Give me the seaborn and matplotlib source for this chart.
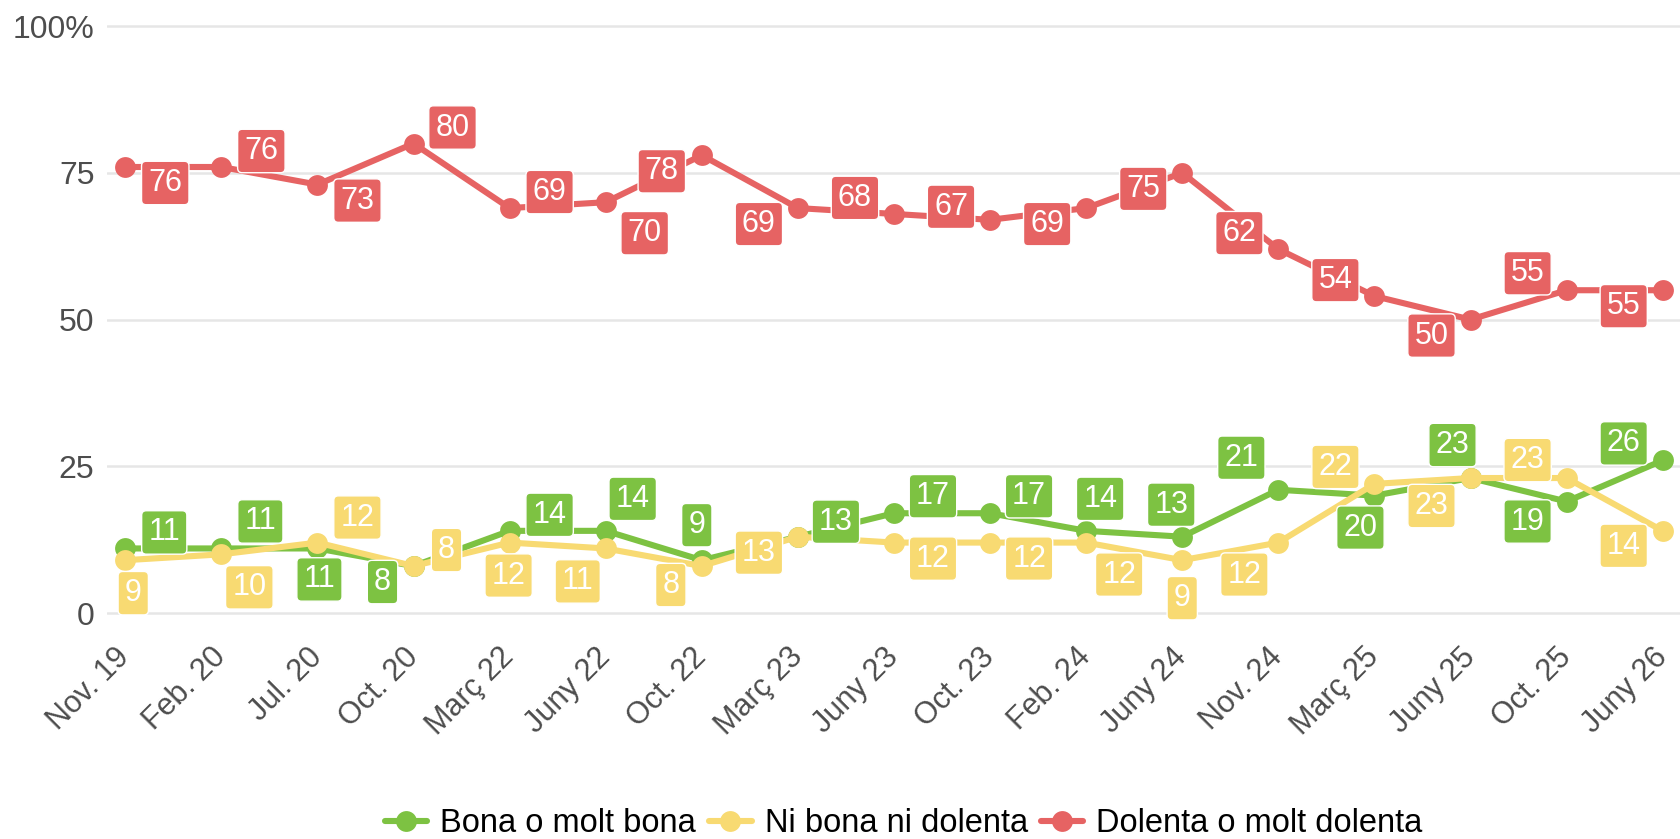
import numpy as np
import pandas as pd
import matplotlib.pyplot as plt
import seaborn as sns
from matplotlib.lines import Line2D

periods = ['Nov. 19', 'Feb. 20', 'Jul. 20', 'Oct. 20', 'Març 22', 'Juny 22', 'Oct. 22',
           'Març 23', 'Juny 23', 'Oct. 23', 'Feb. 24', 'Juny 24', 'Nov. 24', 'Març 25',
           'Juny 25', 'Oct. 25', 'Juny 26']
bona = [11, 11, 11, 8, 14, 14, 9, 13, 17, 17, 14, 13, 21, 20, 23, 19, 26]
ni_bona = [9, 10, 12, 8, 12, 11, 8, 13, 12, 12, 12, 9, 12, 22, 23, 23, 14]
dolenta = [76, 76, 73, 80, 69, 70, 78, 69, 68, 67, 69, 75, 62, 54, 50, 55, 55]

series_names = ['Bona o molt bona', 'Ni bona ni dolenta', 'Dolenta o molt dolenta']
colors = ['#7DC242', '#F8DA72', '#E66363']

# label box offsets in pixels (dx right, dy down) from each point
bona_off = [(39, -16), (39, -27), (2, 31), (-31, 16), (40, -16), (27, -32), (-5, -35),
            (38, -15), (39, -17), (39, -17), (14, -32), (-11, -32), (-37, -32), (-14, 32),
            (-18, -33), (-39, 20), (-39, -17)]
ni_off = [(8, 33), (28, 33), (40, -25), (33, -16), (-1, 33), (-28, 33), (-31, 19),
          (-39, 16), (39, 16), (39, 16), (33, 32), (0, 38), (-34, 32), (-39, -17),
          (-39, 28), (-39, -18), (-39, 15)]
dolenta_off = [(40, 16), (40, -16), (40, 16), (39, -16), (40, -16), (39, 31), (-40, 16),
               (-39, 16), (-39, -16), (-39, -13), (-39, 16), (-39, 16), (-39, -16),
               (-39, -16), (-39, 16), (-39, -17), (-39, 16)]

df = pd.DataFrame({
    'periode': periods * 3,
    'valor': bona + ni_bona + dolenta,
    'serie': np.repeat(series_names, len(periods)),
})

sns.set_style('white')
plt.rcParams['font.family'] = ['Liberation Sans', 'DejaVu Sans']

fig = plt.figure(figsize=(16.8, 8.39), dpi=100)
ax = fig.add_axes([107 / 1680, 1 - 640 / 839, 1 - 107 / 1680, 625 / 839])

sns.lineplot(data=df, x='periode', y='valor', hue='serie', hue_order=series_names,
             palette=colors, marker='o', markersize=15, markeredgewidth=0,
             linewidth=4.4, sort=False, legend=False, ax=ax)

for vals, offs, col in zip([bona, ni_bona, dolenta], [bona_off, ni_off, dolenta_off], colors):
    for i, (v, (dx, dy)) in enumerate(zip(vals, offs)):
        ax.annotate(str(v), xy=(i, v), xytext=(dx, -dy), textcoords='offset pixels',
                    ha='center', va='center', fontsize=22, color='white', zorder=6,
                    bbox=dict(boxstyle='round,pad=0.22,rounding_size=0.15',
                              fc=col, ec='white', lw=1))

ax.set_xlim(-0.19, 16.18)
ax.set_ylim(-4.6, 101.9)
ax.set_yticks([0, 25, 50, 75, 100])
ax.set_yticklabels(['0', '25', '50', '75', '100%'])
ax.yaxis.grid(True, color='#e6e6e6', lw=1.8)
ax.xaxis.grid(False)
ax.set_axisbelow(True)
for s in ax.spines.values():
    s.set_visible(False)
ax.tick_params(axis='y', length=0, labelsize=23, labelcolor='#4d4d4d', pad=9)
ax.tick_params(axis='x', length=0, labelsize=22, labelcolor='#4d4d4d', pad=9)
plt.setp(ax.get_xticklabels(), rotation=45, ha='right', va='center', rotation_mode='anchor')
ax.set_xlabel('')
ax.set_ylabel('')

handles = [Line2D([0], [0], color=c, lw=4.4, marker='o', markersize=15, markeredgewidth=0)
           for c in colors]
fig.legend(handles, series_names, loc='lower center', bbox_to_anchor=(0.538, -0.035),
           ncol=3, frameon=False, fontsize=23.5, handlelength=1.3, columnspacing=0.4,
           handletextpad=0.4, labelcolor='black')

fig.savefig('out.png', dpi=100)
